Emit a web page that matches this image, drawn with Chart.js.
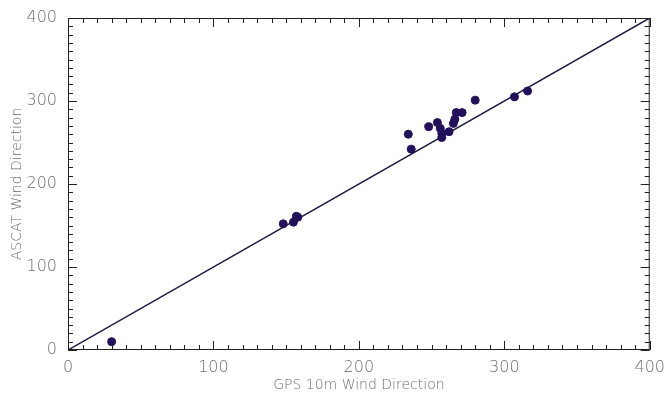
<!DOCTYPE html>
<html lang="en">
<head>
<meta charset="UTF-8">
<title>GPS vs ASCAT Wind Direction</title>
<script src="https://cdn.jsdelivr.net/npm/chart.js"></script>
<style>
  html, body { margin: 0; padding: 0; background: #fff; }
</style>
</head>
<body>
<canvas id="chart" width="665" height="397"></canvas>
<script>
// data
const gpsDir   = [30, 148, 155, 157, 158, 234, 236, 248, 254, 256, 257, 257, 262, 265, 266, 267, 271, 280, 307, 316];
const ascatDir = [10, 152, 154, 161, 160, 260, 242, 269, 274, 267, 261, 256, 263, 273, 278, 286, 286, 301, 305, 312];
const oneToOne = [0, 400];
const axisTicks = [0, 100, 200, 300, 400];

const points = gpsDir.map((x, i) => ({ x: x, y: ascatDir[i] }));
const lineData = oneToOne.map(v => ({ x: v, y: v }));

const textColor = "#6e6e6e";
const tickFont = { family: "DejaVu Sans", size: 16, weight: "200" };
const titleFont = { family: "DejaVu Sans", size: 14, weight: "200" };

// IDL style inward ticks on all four sides + frame
const frameTicks = {
  id: "frameTicks",
  afterDraw(chart) {
    const ctx = chart.ctx, a = chart.chartArea;
    const xs = chart.scales.x, ys = chart.scales.y;
    ctx.save();
    ctx.strokeStyle = "#222";
    ctx.lineWidth = 1;
    ctx.strokeRect(a.left + 0.5, a.top + 0.5, a.right - a.left - 1, a.bottom - a.top - 1);
    ctx.beginPath();
    for (let v = 0; v <= 400; v += 10) {
      const len = v % 100 === 0 ? 9 : 5;
      const px = Math.round(xs.getPixelForValue(v)) + 0.5;
      ctx.moveTo(px, a.bottom); ctx.lineTo(px, a.bottom - len);
      ctx.moveTo(px, a.top); ctx.lineTo(px, a.top + len);
      const py = Math.round(ys.getPixelForValue(v)) + 0.5;
      ctx.moveTo(a.left, py); ctx.lineTo(a.left + len, py);
      ctx.moveTo(a.right, py); ctx.lineTo(a.right - len, py);
    }
    ctx.stroke();
    ctx.restore();
  }
};

new Chart(document.getElementById("chart"), {
  type: "scatter",
  data: {
    datasets: [
      {
        type: "line",
        data: lineData,
        borderColor: "#1c1840",
        borderWidth: 1.5,
        pointRadius: 0,
        order: 2
      },
      {
        data: points,
        backgroundColor: "#22105a",
        borderColor: "#22105a",
        pointRadius: 4,
        order: 1
      }
    ]
  },
  options: {
    responsive: false,
    animation: false,
    layout: { padding: { top: 18, right: 15 } },
    plugins: { legend: { display: false }, tooltip: { enabled: false } },
    scales: {
      x: {
        type: "linear", min: 0, max: 400,
        afterBuildTicks: s => { s.ticks = axisTicks.map(v => ({ value: v })); },
        afterFit: s => { s.height = 47; },
        grid: { display: false },
        border: { display: false },
        ticks: { color: textColor, font: tickFont, padding: 0, maxRotation: 0 },
        title: { display: true, text: "GPS 10m Wind Direction", color: textColor, font: titleFont, padding: { top: 0, bottom: 3 } }
      },
      y: {
        type: "linear", min: 0, max: 400,
        afterBuildTicks: s => { s.ticks = axisTicks.map(v => ({ value: v })); },
        afterFit: s => { s.width = 68; },
        grid: { display: false },
        border: { display: false },
        ticks: { color: textColor, font: tickFont, padding: 3 },
        title: { display: true, text: "ASCAT Wind Direction", color: textColor, font: titleFont, padding: { top: 9, bottom: 0 } }
      }
    }
  },
  plugins: [frameTicks]
});
</script>
</body>
</html>
